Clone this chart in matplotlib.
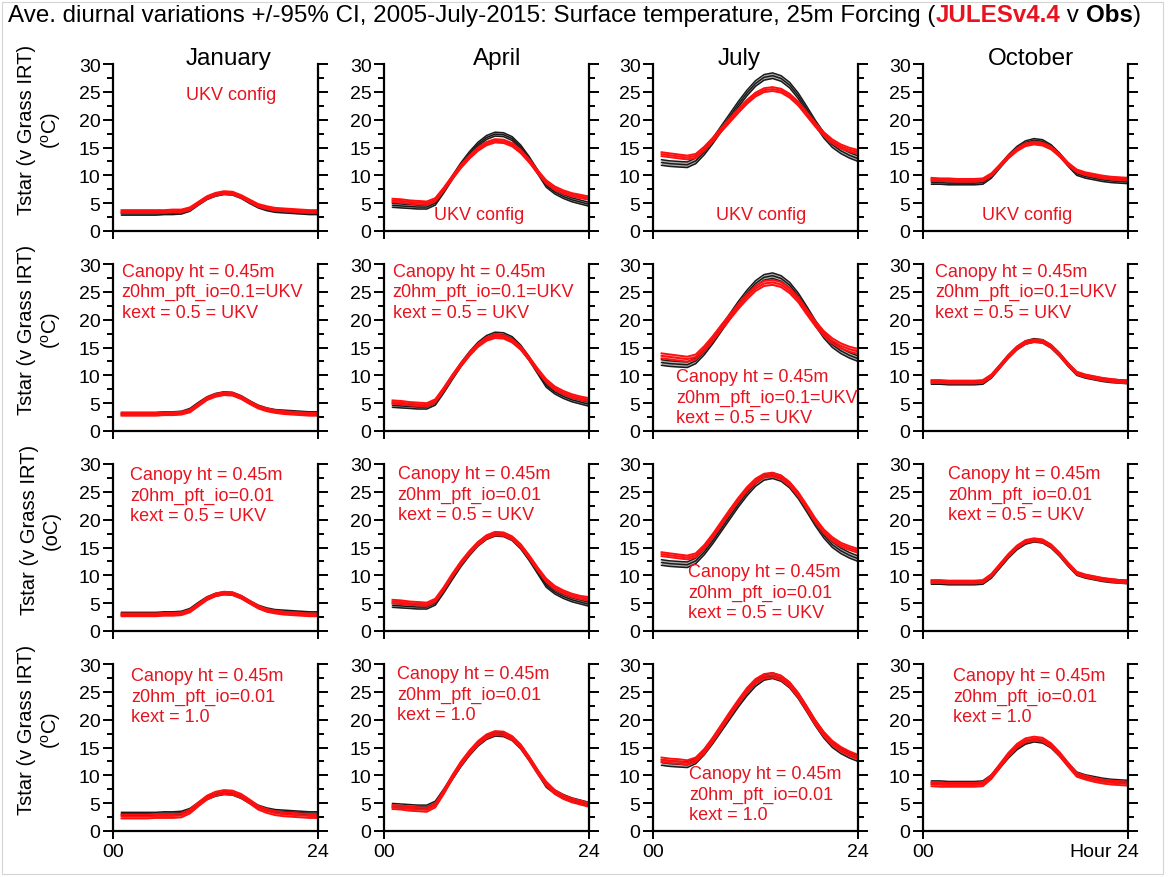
"""Ave. diurnal cycles of surface temperature (Tstar) for four months:
JULES model runs (red) against the grass IRT observations (black), each
drawn as mean with its +/-95% CI lines."""

import matplotlib.pyplot as plt
from matplotlib.patches import Rectangle

plt.rcParams["font.family"] = ["Liberation Sans", "DejaVu Sans"]
plt.rcParams["mathtext.fontset"] = "custom"
plt.rcParams["mathtext.rm"] = "Liberation Sans"
plt.rcParams["mathtext.it"] = "Liberation Sans:italic"

RED = "#ff1010"
TEXT_RED = "#e8131f"

HOURS = list(range(1, 25))
MONTHS = ["January", "April", "July", "October"]

# observations (same in every row of a column)
JAN_OBS = [3.1, 3.1, 3.1, 3.1, 3.1, 3.2, 3.2, 3.3, 3.8, 4.9, 5.9, 6.5, 6.8, 6.7, 6.1, 5.2, 4.4, 3.9, 3.6, 3.5, 3.4, 3.3, 3.2, 3.2]
APR_OBS = [4.6, 4.5, 4.4, 4.3, 4.3, 5.0, 7.2, 9.6, 11.9, 13.9, 15.6, 16.8, 17.4, 17.3, 16.6, 15.1, 13.0, 10.6, 8.2, 7.0, 6.2, 5.6, 5.2, 4.8]
JUL_OBS = [12.3, 12.1, 12.0, 11.9, 12.6, 14.2, 16.2, 18.4, 20.6, 22.8, 24.8, 26.5, 27.6, 27.9, 27.4, 26.2, 24.3, 21.9, 19.4, 17.2, 15.5, 14.4, 13.6, 13.0]
OCT_OBS = [8.7, 8.7, 8.6, 8.6, 8.6, 8.6, 8.7, 9.8, 11.6, 13.4, 14.9, 15.9, 16.3, 16.1, 15.2, 13.7, 11.9, 10.3, 9.8, 9.5, 9.2, 9.0, 8.9, 8.8]
OBS_CI = [0.25, 0.35, 0.5, 0.3]

# JULES runs, one list per row (config) for each month
JAN_MODEL = [
    [3.5, 3.5, 3.5, 3.5, 3.5, 3.5, 3.6, 3.6, 4.0, 5.0, 6.0, 6.6, 6.9, 6.8, 6.2, 5.4, 4.6, 4.2, 3.9, 3.8, 3.7, 3.6, 3.5, 3.5],
    [3.0, 3.0, 3.0, 3.0, 3.0, 3.1, 3.1, 3.2, 3.6, 4.7, 5.8, 6.4, 6.7, 6.6, 6.0, 5.1, 4.3, 3.8, 3.5, 3.3, 3.2, 3.1, 3.0, 3.0],
    [2.9, 2.9, 2.9, 2.9, 2.9, 3.0, 3.0, 3.1, 3.6, 4.7, 5.8, 6.5, 6.8, 6.7, 6.1, 5.2, 4.3, 3.7, 3.4, 3.2, 3.1, 3.0, 2.9, 2.9],
    [2.6, 2.6, 2.6, 2.6, 2.7, 2.7, 2.7, 2.8, 3.5, 4.8, 6.0, 6.7, 7.0, 6.9, 6.3, 5.3, 4.2, 3.6, 3.2, 3.0, 2.9, 2.8, 2.7, 2.7],
]
APR_MODEL = [
    [5.5, 5.4, 5.2, 5.1, 5.0, 5.6, 7.5, 9.6, 11.6, 13.3, 14.7, 15.7, 16.2, 16.1, 15.5, 14.3, 12.6, 10.6, 8.8, 7.7, 7.0, 6.5, 6.2, 5.9],
    [5.2, 5.1, 4.9, 4.8, 4.7, 5.4, 7.5, 9.8, 11.9, 13.8, 15.4, 16.5, 17.0, 16.9, 16.2, 14.9, 13.0, 10.9, 9.0, 7.7, 6.9, 6.3, 5.9, 5.6],
    [5.3, 5.2, 5.0, 4.9, 4.8, 5.5, 7.6, 10.0, 12.2, 14.1, 15.7, 16.9, 17.5, 17.4, 16.7, 15.3, 13.3, 11.1, 9.1, 7.8, 7.0, 6.4, 6.0, 5.8],
    [4.3, 4.2, 4.0, 3.9, 3.8, 4.6, 7.0, 9.7, 12.1, 14.1, 15.8, 17.0, 17.6, 17.5, 16.7, 15.2, 13.0, 10.6, 8.5, 7.0, 6.1, 5.5, 5.1, 4.7],
]
JUL_MODEL = [
    [13.8, 13.6, 13.4, 13.2, 13.5, 14.8, 16.4, 18.2, 19.9, 21.6, 23.2, 24.5, 25.3, 25.5, 25.2, 24.3, 22.9, 21.0, 19.1, 17.4, 16.1, 15.2, 14.6, 14.2],
    [13.5, 13.3, 13.1, 12.9, 13.3, 14.8, 16.6, 18.6, 20.5, 22.4, 24.1, 25.6, 26.5, 26.7, 26.3, 25.2, 23.6, 21.4, 19.3, 17.5, 16.2, 15.3, 14.7, 14.3],
    [13.8, 13.6, 13.4, 13.2, 13.6, 15.1, 17.1, 19.3, 21.5, 23.6, 25.5, 27.0, 27.9, 28.1, 27.6, 26.4, 24.6, 22.3, 19.9, 17.9, 16.5, 15.5, 14.9, 14.4],
    [12.8, 12.6, 12.5, 12.3, 12.8, 14.3, 16.4, 18.7, 21.0, 23.2, 25.3, 26.9, 27.8, 28.0, 27.5, 26.3, 24.4, 22.0, 19.5, 17.4, 15.8, 14.7, 13.9, 13.3],
]
OCT_MODEL = [
    [9.3, 9.2, 9.2, 9.1, 9.1, 9.1, 9.2, 10.1, 11.7, 13.3, 14.6, 15.5, 15.8, 15.6, 14.9, 13.6, 12.0, 10.8, 10.3, 10.0, 9.7, 9.5, 9.4, 9.3],
    [8.9, 8.9, 8.8, 8.8, 8.8, 8.8, 8.9, 9.9, 11.6, 13.4, 14.9, 15.9, 16.2, 16.1, 15.2, 13.7, 11.9, 10.4, 9.9, 9.6, 9.3, 9.1, 8.9, 8.8],
    [8.9, 8.9, 8.8, 8.8, 8.8, 8.8, 8.9, 10.0, 11.8, 13.6, 15.1, 16.1, 16.4, 16.2, 15.3, 13.8, 12.0, 10.4, 9.9, 9.6, 9.3, 9.1, 8.9, 8.8],
    [8.4, 8.3, 8.3, 8.3, 8.3, 8.3, 8.4, 9.7, 11.7, 13.7, 15.3, 16.3, 16.6, 16.4, 15.4, 13.8, 11.9, 10.1, 9.6, 9.2, 8.9, 8.7, 8.6, 8.5],
]
# CI half-widths of the model runs, [row][month]
MODEL_CI = [
    [0.25, 0.3, 0.35, 0.25],
    [0.25, 0.3, 0.45, 0.25],
    [0.25, 0.3, 0.35, 0.25],
    [0.35, 0.35, 0.4, 0.35],
]

OBS = [JAN_OBS, APR_OBS, JUL_OBS, OCT_OBS]
MODEL = [JAN_MODEL, APR_MODEL, JUL_MODEL, OCT_MODEL]

UKV = "UKV config"
CFG_UKV = "Canopy ht = 0.45m\nz0hm_pft_io=0.1=UKV\nkext = 0.5 = UKV"
CFG_Z001 = "Canopy ht = 0.45m\nz0hm_pft_io=0.01\nkext = 0.5 = UKV"
CFG_K1 = "Canopy ht = 0.45m\nz0hm_pft_io=0.01\nkext = 1.0"
ROW_TEXT = [UKV, CFG_UKV, CFG_Z001, CFG_K1]
# (x hour, y degC of middle line, ha) for each panel's label
TEXT_POS = [
    [(13.8, 24.6, "center"), (11.1, 3.0, "center"), (12.6, 3.0, "center"), (12.2, 3.0, "center")],
    [(1.0, 25.0, "left"), (1.0, 25.0, "left"), (2.7, 6.1, "left"), (1.4, 25.0, "left")],
    [(2.0, 24.4, "left"), (1.6, 24.6, "left"), (4.1, 7.0, "left"), (2.9, 24.6, "left")],
    [(2.1, 24.2, "left"), (1.5, 24.6, "left"), (4.2, 6.6, "left"), (3.5, 24.2, "left")],
]
DEG_C = r"Tstar (v Grass IRT)" + "\n" + r"($^\mathrm{o}$C)"
YLABELS = [DEG_C, DEG_C, "Tstar (v Grass IRT)\n(oC)", DEG_C]
MONTH_X = [13.5, 13.2, 10.1, 12.6]

W, H = 1168, 878
COL_LEFT = [113, 384, 653, 923]
ROW_TOP = [65, 265, 465, 665]
AX_W, AX_H = 205, 167


def plot_band(ax, values, ci, color, lw):
    lower = [v - ci for v in values]
    upper = [v + ci for v in values]
    ax.fill_between(HOURS, lower, upper, color=color, alpha=0.35, lw=0)
    for series in (lower, values, upper):
        ax.plot(HOURS, series, color=color, lw=lw, solid_joinstyle="round")


def style_axes(ax, bottom_row, last_col):
    ax.set_xlim(0, 24)
    ax.set_ylim(0, 30)
    ax.spines["top"].set_visible(False)
    for side in ("left", "right", "bottom"):
        ax.spines[side].set_linewidth(1.6)
    ax.set_yticks(range(0, 31, 5))
    ax.set_yticks([2.5 + 5 * i for i in range(6)], minor=True)
    ax.tick_params(axis="y", which="both", direction="out", left=True, right=True,
                   labelright=False, width=1.4, labelsize=14, pad=2)
    ax.tick_params(axis="y", which="major", length=7)
    ax.tick_params(axis="y", which="minor", length=4)
    ax.set_xticks([0, 24])
    ax.tick_params(axis="x", direction="out", length=6, width=1.4, labelsize=14, pad=3,
                   labelbottom=bottom_row)
    if bottom_row:
        ax.set_xticklabels(["00", "24"])
        if last_col:
            ax.annotate("Hour", xy=(24, 0), xycoords=("data", "axes fraction"),
                        xytext=(-11.5, -9), textcoords="offset points",
                        ha="right", va="top", fontsize=14)


def draw_title(fig):
    renderer = fig.canvas.get_renderer()
    parts = [
        ("Ave. diurnal variations +/-95% CI, 2005-July-2015: Surface temperature, 25m Forcing (", "black", "normal"),
        ("JULESv4.4", TEXT_RED, "bold"),
        (" v ", "black", "normal"),
        ("Obs", "black", "bold"),
        (")", "black", "normal"),
    ]
    x = 8 / W
    y = 1 - 16 / H
    for text, color, weight in parts:
        t = fig.text(x, y, text, color=color, fontweight=weight, fontsize=17.4,
                     ha="left", va="center")
        bb = t.get_window_extent(renderer=renderer)
        x = bb.x1 / W


def main():
    fig = plt.figure(figsize=(W / 100, H / 100), dpi=100)
    fig.patches.append(Rectangle((2 / W, 3 / H), 1161 / W, 872 / H, transform=fig.transFigure,
                                 fill=False, edgecolor="#d4d4d4", lw=0.8))

    for r in range(4):
        for c in range(4):
            ax = fig.add_axes([COL_LEFT[c] / W, 1 - (ROW_TOP[r] + AX_H) / H, AX_W / W, AX_H / H])
            plot_band(ax, OBS[c], OBS_CI[c], "#1a1a1a", 1.1)
            plot_band(ax, MODEL[c][r], MODEL_CI[r][c], RED, 1.4)
            style_axes(ax, r == 3, c == 3)

            tx, ty, ha = TEXT_POS[r][c]
            ax.text(tx, ty, ROW_TEXT[r], color=TEXT_RED, fontsize=13, ha=ha, va="center",
                    linespacing=1.25, clip_on=False)

            if c == 0:
                ax.text(-0.355, 0.61, YLABELS[r], rotation=90, transform=ax.transAxes,
                        ha="center", va="center", multialignment="center", fontsize=14.5,
                        linespacing=1.2)
            if r == 0:
                ax.text(MONTH_X[c], 31.0, MONTHS[c], ha="center", va="center", fontsize=17.5,
                        clip_on=False)

    draw_title(fig)
    fig.savefig("out.png", dpi=100)


if __name__ == "__main__":
    main()
